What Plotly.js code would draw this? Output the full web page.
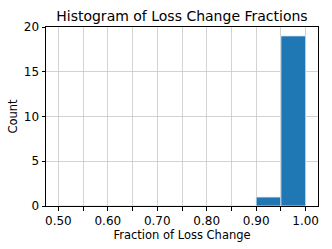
<!DOCTYPE html>
<html><head><meta charset="utf-8">
<script src="https://cdn.plot.ly/plotly-3.0.1.min.js"></script>
<style>html,body{margin:0;padding:0;background:#fff}#c{width:332px;height:249px}</style>
</head><body><div id="c"></div>
<script>
const binLeft = [0.50,0.55,0.60,0.65,0.70,0.75,0.80,0.85,0.90,0.95];
const counts  = [0,0,0,0,0,0,0,0,1,19];
const binWidth = 0.05;
const xTickVals = [0.50,0.55,0.60,0.65,0.70,0.75,0.80,0.85,0.90,0.95,1.00];
const xTickText = ["0.50","","0.60","","0.70","","0.80","","0.90","","1.00"];
const yTickVals = [0,5,10,15,20];

const font = "DejaVu Sans, sans-serif";
Plotly.newPlot('c', [{
  type:'bar', x:binLeft, y:counts, width:binWidth, offset:0,
  marker:{color:'#1f77b4', line:{color:'#dce8f2', width:0.8}},
  hoverinfo:'none'
}], {
  width:332, height:249,
  margin:{l:46, r:14, t:27, b:43},
  paper_bgcolor:'#fff', plot_bgcolor:'#fff',
  showlegend:false,
  font:{family:font, color:'#000', size:11},
  title:{text:'Histogram of Loss Change Fractions', font:{family:font, size:14, color:'#000'}, x:0.548, xanchor:'center', y:0.935, yanchor:'middle'},
  xaxis:{range:[0.475,1.025], tickvals:xTickVals, ticktext:xTickText, ticks:'outside', ticklen:3.5, tickcolor:'#000',
    showgrid:true, gridcolor:'#c8c8c8', gridwidth:0.8, showline:true, linecolor:'#000', linewidth:1, mirror:true, zeroline:false,
    tickfont:{family:font, size:12, color:'#000'},
    title:{text:'Fraction of Loss Change', font:{family:font, size:11.5, color:'#000'}, standoff:0}},
  yaxis:{range:[0,20], tickvals:yTickVals, ticks:'outside', ticklen:3.5, tickcolor:'#000',
    showgrid:true, gridcolor:'#c8c8c8', gridwidth:0.8, showline:true, linecolor:'#000', linewidth:1, mirror:true, zeroline:false,
    tickfont:{family:font, size:12, color:'#000'},
    title:{text:'Count', font:{family:font, size:11.5, color:'#000'}, standoff:3}},
  bargap:0
}, {staticPlot:true, displayModeBar:false});
</script></body></html>
